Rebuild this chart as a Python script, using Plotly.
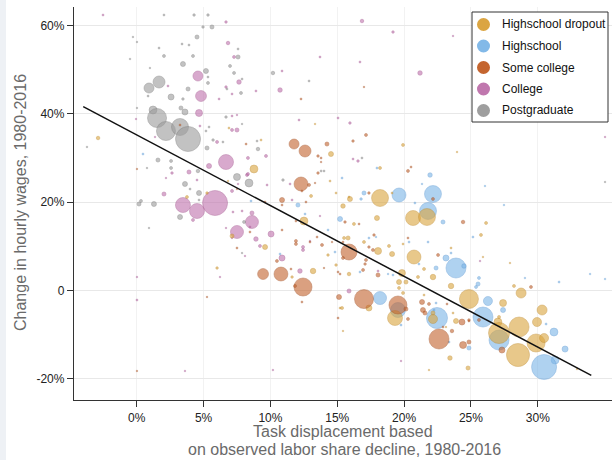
import math
import plotly.graph_objects as go

# Occupation x education cells: (task displacement %, change in hourly wage %, employment weight)
dropout = [
    (-2.89, 34.50, 2), (3.76, 21.15, 1.4), (5.26, 22.06, 1), (6.90, 36.76, 0.6), (9.30, 34.05, 0.6),
    (8.77, 27.49, 10), (6.83, 24.77, 0.4), (14.53, 30.88, 4), (13.34, 37.67, 0.4), (14.46, 24.77, 0.6),
    (14.91, 22.06, 0.6), (13.04, 21.38, 1.4), (12.51, 15.72, 10), (7.13, 12.33, 2.6), (9.60, 9.84, 4),
    (6.01, 5.09, 1), (13.19, 4.41, 4.8), (11.62, 3.05, 1), (14.91, 5.77, 1), (14.31, 8.03, 1),
    (15.21, -3.96, 0.6), (19.92, 32.92, 1.4), (23.96, 31.33, 0.4), (18.20, 27.71, 1.4), (15.88, 21.15, 0.6),
    (15.95, 20.70, 4), (18.20, 20.93, 46), (19.10, 22.06, 0.6), (20.67, 16.40, 36), (21.71, 16.63, 46),
    (26.13, 15.27, 1.4), (17.97, 16.40, 4), (15.43, 19.12, 3.2), (16.25, 15.05, 1.4), (15.51, 11.88, 1.4),
    (15.81, 11.88, 2.6), (18.05, 8.94, 7.8), (17.00, 10.97, 1.4), (18.87, 10.07, 1.4), (19.10, 8.26, 4),
    (19.92, 10.52, 0.6), (20.74, 7.58, 31), (23.51, 9.62, 0.6), (22.16, 3.05, 4.8), (23.51, 1.02, 4.8),
    (15.88, 3.73, 2), (19.62, 1.92, 4), (20.14, 1.92, 2.6), (19.84, 3.96, 7.8), (21.04, 3.05, 1.4),
    (21.49, 4.86, 1.4), (17.37, -3.96, 5.8), (15.36, -3.96, 1.4), (15.43, -9.16, 0.4), (19.62, 0.57, 1.4),
    (19.92, -0.57, 1.4), (19.32, -6.22, 36), (21.49, -1.02, 0.6), (22.16, -5.09, 2.6), (22.16, -6.45, 13),
    (23.13, -8.26, 0.4), (23.43, -15.27, 3.2), (24.78, -17.53, 2.6), (23.88, -6.90, 4), (23.66, -5.09, 0.6),
    (21.86, -17.99, 0.4), (25.75, 12.56, 1.4), (25.90, 7.58, 0.4), (27.92, 6.22, 0.4), (28.22, 1.02, 1.4),
    (28.75, -0.57, 16), (24.85, -1.92, 58), (27.40, -2.83, 7.8), (27.10, -6.00, 1.4), (30.32, -4.41, 16),
    (29.94, -7.13, 13), (27.02, -7.13, 10), (27.10, -9.62, 71), (28.60, -8.26, 64), (29.87, -11.88, 52),
    (30.47, -10.75, 13), (28.52, -14.59, 85), (32.93, -17.76, 0.4),
]

highschool = [
    (0.47, 30.88, 0.6), (12.06, 19.34, 2.6), (8.55, 20.25, 0.6), (12.59, 17.31, 0.6), (10.72, 8.26, 0.6),
    (15.21, 16.18, 4), (14.31, 13.69, 0.6), (14.83, 8.71, 0.6), (17.97, 27.71, 0.6), (15.36, 25.45, 0.6),
    (21.94, 26.13, 3.2), (21.34, 24.10, 0.4), (17.00, 22.06, 2.6), (16.78, 20.70, 1), (19.62, 21.61, 31),
    (22.16, 21.83, 46), (20.81, 19.80, 0.6), (21.79, 17.99, 46), (22.91, 15.50, 2.6), (26.05, 23.64, 0.4),
    (27.47, 19.34, 0.4), (17.37, 11.88, 0.6), (17.90, 12.10, 0.4), (20.37, 10.97, 0.6), (21.79, 10.97, 0.6),
    (23.13, 7.35, 5.8), (23.88, 5.09, 64), (23.51, 8.48, 0.6), (24.48, 5.54, 3.2), (22.39, 5.09, 2.6),
    (16.70, 4.19, 0.6), (18.80, 3.73, 0.4), (19.17, 3.51, 0.6), (21.11, 5.99, 0.6), (18.20, -1.70, 27),
    (19.54, -4.41, 36), (19.77, -7.81, 0.6), (22.39, -2.83, 0.6), (22.46, -6.22, 71), (22.24, -4.41, 0.6),
    (23.36, -11.65, 0.6), (24.85, -13.01, 2.6), (25.15, 12.10, 0.6), (25.60, 2.83, 1.4), (25.53, 1.47, 2.6),
    (25.38, 0.79, 1.4), (29.04, 2.83, 0.4), (31.59, 1.92, 0.6), (33.91, 3.73, 0.4), (35.03, 2.60, 0.4),
    (26.27, -2.38, 13), (27.40, -4.41, 4), (25.90, -6.00, 64), (30.62, -7.58, 0.6), (27.10, -11.20, 64),
    (31.21, -9.39, 10), (32.04, -13.24, 5.8), (31.29, -15.72, 10), (30.47, -17.31, 100),
]

some_college = [
    (3.24, 37.44, 0.6), (0.02, 27.49, 0.4), (5.26, -1.47, 0.4), (0.02, -18.21, 0.4), (12.29, 43.33, 0.6),
    (8.18, 33.14, 0.6), (11.77, 33.14, 16), (12.59, 31.56, 23), (14.23, 33.14, 2.6), (13.56, 30.43, 1),
    (13.79, 29.98, 0.6), (13.79, 29.07, 0.4), (13.56, 26.58, 1), (12.29, 24.10, 31), (12.89, 23.87, 1.4),
    (12.36, 22.51, 0.6), (13.34, 24.32, 0.4), (10.87, 20.48, 4), (12.66, 20.02, 0.6), (7.50, 22.96, 0.4),
    (9.60, 20.02, 0.6), (10.87, 19.34, 0.6), (8.47, 13.24, 0.6), (7.50, 9.62, 0.6), (10.87, 13.69, 0.6),
    (9.45, 3.73, 19), (10.79, 3.73, 31), (10.49, 6.67, 1.4), (11.54, 4.86, 0.6), (12.44, 0.79, 52),
    (11.84, 1.02, 1.4), (12.36, -2.60, 0.6), (14.01, 5.09, 0.4), (14.61, 10.97, 0.4), (13.86, 10.29, 1.4),
    (11.91, 11.20, 1.4), (11.91, 10.52, 1.4), (13.49, 12.10, 0.6), (11.91, 15.72, 0.6), (15.21, 3.73, 0.6),
    (15.06, -6.22, 0.6), (12.96, 10.97, 0.6), (17.00, 46.04, 0.4), (17.15, 35.18, 1.4), (16.18, 33.82, 1),
    (20.52, 27.94, 0.6), (20.29, 27.04, 1.4), (17.37, 22.06, 1), (22.16, 20.70, 1.4), (24.41, 15.50, 2),
    (15.58, 15.50, 1), (16.63, 15.05, 0.6), (15.43, 10.97, 0.6), (15.88, 8.71, 41), (15.43, 7.35, 1.4),
    (17.37, 9.84, 1), (17.67, 9.16, 1.4), (17.15, 6.90, 1.4), (17.08, 5.99, 1), (17.75, 12.56, 1),
    (20.29, 11.88, 0.6), (22.54, 8.03, 1.4), (15.06, 4.19, 0.6), (16.93, 4.64, 1.4), (18.05, 3.51, 2.6),
    (17.00, -1.92, 58), (15.13, -1.47, 4), (19.54, -3.28, 52), (20.14, -4.19, 2.6), (20.29, -6.45, 1.4),
    (21.34, -2.60, 4), (21.41, -4.41, 4), (21.56, -5.09, 2.6), (21.86, -3.05, 1.4), (22.61, -10.97, 64),
    (22.91, -8.26, 0.6), (23.58, -9.16, 2), (24.41, -12.33, 7.8), (24.33, -7.13, 5.8), (24.85, -6.90, 0.6),
    (24.85, -11.65, 2.6), (23.21, -3.05, 0.6), (25.60, -6.67, 1.4), (24.85, -6.67, 1), (29.49, 0.79, 1.4),
    (27.32, -13.46, 5.8),
]

college = [
    (-2.52, 62.33, 0.6), (4.58, 48.53, 16), (2.34, 46.27, 0.6), (4.81, 44.00, 19), (4.66, 40.16, 7.8),
    (-0.05, 38.80, 0.4), (4.73, 37.22, 0.6), (1.37, 34.73, 0.4), (3.91, 26.81, 2.6), (2.64, 26.58, 1),
    (5.41, 28.17, 4), (2.19, 25.45, 0.4), (4.51, 25.00, 0.6), (2.04, 21.83, 2.6), (3.46, 19.34, 36),
    (4.51, 17.99, 36), (5.86, 19.80, 100), (4.21, 15.95, 1.4), (0.02, 3.05, 0.4), (0.02, -2.15, 0.6),
    (3.61, -18.21, 0.4), (6.68, 60.75, 1), (6.83, 55.99, 2), (7.28, 52.83, 1.4), (7.65, 47.17, 3.2),
    (6.68, 46.04, 1), (7.13, 44.46, 0.6), (6.16, 43.33, 0.6), (8.92, 45.14, 0.6), (10.87, 49.66, 0.6),
    (10.72, 45.36, 3.2), (13.71, 52.83, 0.6), (7.13, 39.48, 0.6), (7.50, 39.71, 0.4), (7.13, 36.31, 1.4),
    (7.50, 36.31, 2.6), (6.01, 33.60, 1.4), (9.67, 30.43, 1.4), (8.32, 29.98, 1.4), (6.68, 29.07, 36),
    (8.25, 26.13, 1.4), (8.32, 26.36, 1.4), (7.58, 24.10, 0.4), (9.75, 23.87, 0.6), (7.13, 22.51, 1.4),
    (12.14, 38.57, 0.6), (15.06, 39.03, 0.6), (11.47, 24.10, 0.6), (11.62, 20.48, 0.6), (7.88, 17.99, 0.6),
    (7.20, 17.76, 0.6), (8.62, 15.50, 27), (8.62, 17.53, 2.6), (7.50, 13.24, 27), (8.47, 14.37, 0.6),
    (8.92, 11.65, 3.2), (10.05, 12.78, 5.8), (9.22, 10.07, 1.4), (6.68, 14.14, 0.4), (7.13, 11.88, 0.4),
    (8.10, 7.81, 0.4), (6.23, 3.05, 0.4), (10.87, 7.35, 5.8), (12.21, 4.41, 3.2), (12.44, 9.84, 1.4),
    (12.44, 9.16, 1.4), (12.96, 11.20, 0.4), (13.71, 16.85, 0.4), (10.19, -17.99, 0.4), (16.85, 60.97, 2),
    (19.17, 58.48, 1), (23.66, 57.58, 0.4), (16.70, 51.70, 0.6), (21.19, 49.21, 3.2), (15.95, 37.90, 1),
    (16.18, 29.75, 0.6), (16.55, 29.30, 1), (15.88, -0.11, 2.6), (18.05, 4.41, 0.6), (19.77, -15.95, 0.4),
    (25.68, 6.67, 0.4), (35.03, 34.73, 0.4),
]

postgraduate = [
    (2.04, 62.33, 0.6), (4.29, 62.33, 1), (5.33, 62.33, 1), (4.96, 59.62, 1), (4.51, 57.35, 2.6),
    (-0.28, 57.35, 0.4), (0.02, 56.22, 0.4), (3.39, 55.77, 0.6), (3.91, 55.54, 0.6), (1.67, 54.86, 0.6),
    (2.04, 53.05, 1.4), (4.21, 53.05, 1.4), (-0.50, 52.38, 0.4), (3.46, 51.24, 4), (0.99, 50.34, 0.4),
    (5.18, 49.66, 4), (1.67, 47.17, 23), (0.92, 45.81, 16), (3.84, 45.59, 2.6), (0.85, 44.00, 0.6),
    (2.57, 43.78, 5.8), (3.46, 43.33, 1), (3.31, 41.29, 2.6), (3.61, 40.38, 5.8), (1.22, 40.84, 10),
    (1.52, 39.03, 58), (2.19, 36.09, 58), (3.24, 36.99, 46), (3.84, 34.28, 100), (0.02, 41.29, 0.4),
    (5.41, 36.99, 0.6), (-3.72, 32.47, 0.4), (1.59, 29.52, 2.6), (2.57, 29.30, 1.4), (0.77, 27.71, 0.4),
    (2.57, 27.71, 1.4), (4.58, 27.04, 2), (3.61, 24.10, 4), (4.66, 22.06, 4), (3.99, 22.96, 0.6),
    (3.24, 16.63, 4), (0.17, 19.57, 2.6), (1.29, 19.57, 4), (0.32, 20.25, 1.4), (0.92, 14.14, 0.4),
    (4.66, 20.48, 0.6), (5.63, 59.62, 2.6), (7.58, 54.64, 0.6), (7.58, 52.83, 2.6), (6.98, 50.79, 1.4),
    (7.28, 49.21, 1.4), (5.33, 48.30, 0.6), (7.88, 47.85, 0.6), (5.33, 46.95, 1.4), (6.75, 45.59, 0.6),
    (7.80, 44.68, 1.4), (10.19, 49.21, 2), (12.89, 47.40, 0.6), (6.68, 39.25, 1), (7.88, 37.67, 0.4),
    (5.18, 36.09, 0.6), (5.71, 34.05, 1), (6.45, 33.60, 0.6), (9.00, 33.82, 0.6), (5.26, 32.24, 2.6),
    (9.07, 32.01, 2), (7.50, 25.68, 7.8), (8.40, 24.32, 10), (10.94, 25.00, 1), (13.79, 27.04, 0.6),
    (14.01, 27.04, 0.6), (8.03, 15.50, 1.4), (7.88, 8.48, 0.4), (16.85, 29.98, 0.6), (35.03, 24.55, 0.4),
]

X_TICKS = [0, 5, 10, 15, 20, 25, 30]
X_TICK_TEXT = ["0%", "5%", "10%", "15%", "20%", "25%", "30%"]
Y_TICKS = [-20, 0, 20, 40, 60]
Y_TICK_TEXT = ["-20%", "0", "20%", "40%", "60%"]

# Weighted linear fit across all cells
FIT_INTERCEPT = 35.2
FIT_SLOPE = -1.6
FIT_X = [-4.0, 34.0]

LEGEND_LABELS = ["Highschool dropout", "Highschool", "Some college", "College", "Postgraduate"]

FONT = "Liberation Sans, Arial, sans-serif"

# Figure geometry (px) used to place the hand-drawn legend box and titles
W, H = 612, 460
M_L, M_R, M_T, M_B = 74, 0, 7, 60
PW, PH = W - M_L - M_R, H - M_T - M_B


def px_x(px):
    return (px - M_L) / PW


def px_y(py):
    return 1 - (py - M_T) / PH


# (cells, fill colour, outline colour, swatch colour) by group
style = {
    "Highschool dropout": (dropout, "rgba(218,164,62,0.86)", "rgba(190,135,40,0.9)", "#DBA542"),
    "Highschool": (highschool, "rgba(124,181,230,0.86)", "rgba(90,150,210,0.9)", "#82B9E8"),
    "Some college": (some_college, "rgba(195,99,45,0.86)", "rgba(160,75,30,0.9)", "#C4652F"),
    "College": (college, "rgba(191,114,172,0.86)", "rgba(160,80,140,0.9)", "#C077AE"),
    "Postgraduate": (postgraduate, "rgba(155,155,155,0.86)", "rgba(120,120,120,0.9)", "#9E9E9E"),
}
draw_order = ["College", "Postgraduate", "Highschool", "Highschool dropout", "Some college"]


def bubble_diameter(weight):
    return max(1.5, 2.5 * math.sqrt(weight))


fig = go.Figure()

for name in draw_order:
    cells, fill, edge, _ = style[name]
    fig.add_trace(go.Scatter(
        x=[c[0] for c in cells],
        y=[c[1] for c in cells],
        mode="markers",
        name=name,
        showlegend=False,
        marker=dict(
            size=[bubble_diameter(c[2]) for c in cells],
            sizemode="diameter",
            color=fill,
            line=dict(color=edge, width=0.6),
        ),
        hoverinfo="skip",
    ))

fig.add_trace(go.Scatter(
    x=FIT_X,
    y=[FIT_INTERCEPT + FIT_SLOPE * v for v in FIT_X],
    mode="lines",
    line=dict(color="#111111", width=1.5),
    showlegend=False,
    hoverinfo="skip",
))

axis_common = dict(
    showline=True, linecolor="#333333", linewidth=1.3,
    ticks="outside", ticklen=6, tickwidth=1, tickcolor="#333333",
    tickfont=dict(family=FONT, size=12, color="#222222"),
    zeroline=False, mirror=False,
)

shapes = [
    # thin grey strip along the left page edge
    dict(type="rect", xref="paper", yref="paper",
         x0=px_x(0), x1=px_x(6), y0=px_y(H + 5), y1=px_y(-5),
         fillcolor="#eef1f5", line=dict(width=0), layer="below"),
    # legend frame
    dict(type="rect", xref="paper", yref="paper",
         x0=px_x(472), x1=px_x(608), y0=px_y(122), y1=px_y(12),
         fillcolor="white", line=dict(color="#333333", width=1), layer="above"),
]
annotations = []

legend_rows = [24.5, 46, 67.5, 89, 110.5]
for label, row in zip(LEGEND_LABELS, legend_rows):
    shapes.append(dict(
        type="circle", xref="paper", yref="paper",
        xsizemode="pixel", ysizemode="pixel",
        xanchor=px_x(483.5), yanchor=px_y(row),
        x0=-6.5, x1=6.5, y0=-6.5, y1=6.5,
        fillcolor=style[label][3], line=dict(width=0), layer="above",
    ))
    annotations.append(dict(
        text=label, xref="paper", yref="paper", x=px_x(500), y=px_y(row),
        xanchor="left", yanchor="middle", showarrow=False,
        font=dict(family=FONT, size=12, color="#111111"),
    ))

annotations += [
    dict(
        text="Change in hourly wages, 1980-2016",
        xref="paper", yref="paper", x=px_x(20), y=px_y(203),
        textangle=-90, showarrow=False, xanchor="center", yanchor="middle",
        font=dict(family=FONT, size=16, color="#6a6a6a"),
    ),
    dict(
        text="Task displacement based",
        xref="paper", yref="paper", x=px_x(343), y=px_y(431),
        showarrow=False, xanchor="center", yanchor="middle",
        font=dict(family=FONT, size=16, color="#6a6a6a"),
    ),
    dict(
        text="on observed labor share decline, 1980-2016",
        xref="paper", yref="paper", x=px_x(344), y=px_y(450),
        showarrow=False, xanchor="center", yanchor="middle",
        font=dict(family=FONT, size=16, color="#6a6a6a"),
    ),
]

fig.update_layout(
    width=W, height=H,
    margin=dict(l=M_L, r=M_R, t=M_T, b=M_B),
    paper_bgcolor="white", plot_bgcolor="white",
    font=dict(family=FONT),
    showlegend=False,
    xaxis=dict(
        range=[-4.69, 35.55], tickmode="array", tickvals=X_TICKS, ticktext=X_TICK_TEXT,
        showgrid=True, gridcolor="#f2f2f2", gridwidth=1, **axis_common,
    ),
    yaxis=dict(
        range=[-24.77, 64.14], tickmode="array", tickvals=Y_TICKS, ticktext=Y_TICK_TEXT,
        showgrid=True, gridcolor="#e8e8e8", gridwidth=1, **axis_common,
    ),
    shapes=shapes,
    annotations=annotations,
)

fig.write_html("out.html")
